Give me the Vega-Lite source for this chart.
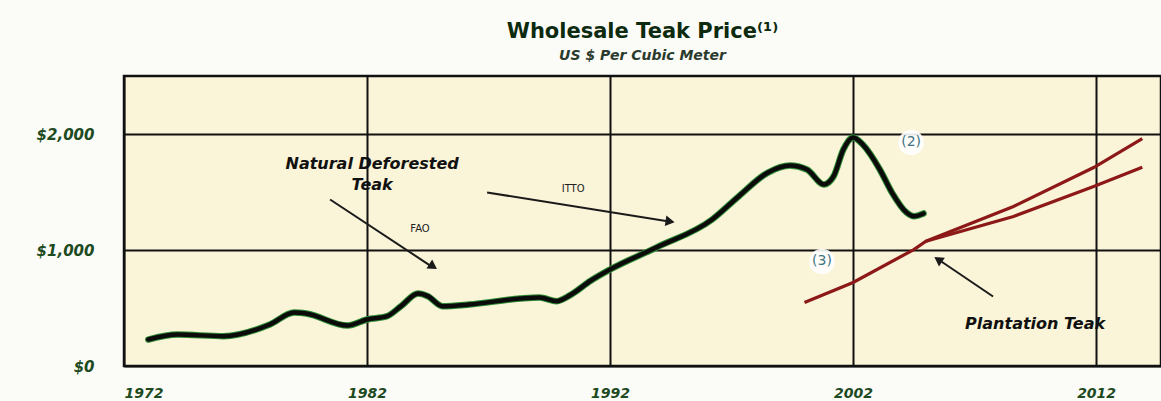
{
  "$schema": "https://vega.github.io/schema/vega-lite/v6.json",
  "width": 1037,
  "height": 290,
  "autosize": {"type": "none"},
  "padding": {"left": 124, "top": 76, "right": 0, "bottom": 35},
  "background": "#fbfbf8",
  "title": {
    "text": "Wholesale Teak Price⁽¹⁾",
    "subtitle": "US $ Per Cubic Meter",
    "anchor": "middle",
    "frame": "group",
    "offset": 13,
    "font": "DejaVu Sans",
    "fontSize": 21,
    "fontWeight": "bold",
    "color": "#0c2a0e",
    "subtitleFont": "DejaVu Sans",
    "subtitleFontSize": 14,
    "subtitleFontWeight": "bold",
    "subtitleFontStyle": "italic",
    "subtitleColor": "#2a3a2c",
    "subtitlePadding": 7
  },
  "config": {
    "view": {"fill": "#faf4d8", "stroke": "#111111", "strokeWidth": 2.5},
    "axis": {
      "labelFont": "DejaVu Sans",
      "labelFontWeight": "bold",
      "labelFontStyle": "italic",
      "labelColor": "#1d4a1f",
      "domain": false,
      "ticks": false,
      "gridColor": "#111111",
      "gridWidth": 2,
      "gridOpacity": 1,
      "title": null
    }
  },
  "datasets": {
    "natural": [
      {"year": 1973.0, "value": 228},
      {"year": 1974.2, "value": 271},
      {"year": 1976.1, "value": 257},
      {"year": 1978.0, "value": 358},
      {"year": 1979.0, "value": 461},
      {"year": 1979.5, "value": 452},
      {"year": 1981.2, "value": 349},
      {"year": 1982.0, "value": 401},
      {"year": 1982.8, "value": 427},
      {"year": 1983.4, "value": 516},
      {"year": 1984.1, "value": 625},
      {"year": 1984.5, "value": 602},
      {"year": 1985.1, "value": 516},
      {"year": 1986.2, "value": 530},
      {"year": 1988.3, "value": 581},
      {"year": 1989.1, "value": 590},
      {"year": 1989.8, "value": 559},
      {"year": 1990.4, "value": 616},
      {"year": 1991.2, "value": 735},
      {"year": 1992.0, "value": 832},
      {"year": 1993.9, "value": 1021},
      {"year": 1996.2, "value": 1263},
      {"year": 1997.3, "value": 1464},
      {"year": 1998.5, "value": 1668},
      {"year": 1999.4, "value": 1728},
      {"year": 2000.1, "value": 1694},
      {"year": 2000.8, "value": 1565},
      {"year": 2001.2, "value": 1636},
      {"year": 2001.6, "value": 1866},
      {"year": 2002.0, "value": 1970},
      {"year": 2002.4, "value": 1909},
      {"year": 2003.1, "value": 1694},
      {"year": 2003.6, "value": 1495},
      {"year": 2004.2, "value": 1323},
      {"year": 2004.5, "value": 1291},
      {"year": 2004.9, "value": 1315}
    ],
    "plantation": [
      {"series": "upper", "year": 2000.0, "value": 547},
      {"series": "upper", "year": 2002.0, "value": 720},
      {"series": "upper", "year": 2004.5, "value": 1004},
      {"series": "upper", "year": 2005.0, "value": 1076},
      {"series": "upper", "year": 2008.6, "value": 1375},
      {"series": "upper", "year": 2011.9, "value": 1711},
      {"series": "upper", "year": 2013.9, "value": 1961},
      {"series": "lower", "year": 2005.0, "value": 1076},
      {"series": "lower", "year": 2008.6, "value": 1289},
      {"series": "lower", "year": 2011.9, "value": 1547},
      {"series": "lower", "year": 2013.9, "value": 1714}
    ],
    "arrows": [
      {"arrow": "fao", "year": 1980.48, "value": 1435},
      {"arrow": "fao", "year": 1984.6, "value": 866},
      {"arrow": "itto", "year": 1986.94, "value": 1496},
      {"arrow": "itto", "year": 1994.3, "value": 1250},
      {"arrow": "plant", "year": 2007.76, "value": 599},
      {"arrow": "plant", "year": 2005.6, "value": 905}
    ],
    "heads": [
      {"arrow": "fao", "year": 1984.72, "value": 858},
      {"arrow": "itto", "year": 1994.47, "value": 1246},
      {"arrow": "plant", "year": 2005.5, "value": 918}
    ],
    "bold_labels": [
      {"year": 1982.21, "value": 1740, "label": "Natural Deforested"},
      {"year": 1982.21, "value": 1560, "label": "Teak"},
      {"year": 2009.49, "value": 358, "label": "Plantation Teak"}
    ],
    "small_labels": [
      {"year": 1984.18, "value": 1185, "label": "FAO"},
      {"year": 1990.48, "value": 1522, "label": "ITTO"}
    ],
    "notes": [
      {"year": 2004.39, "value": 1927, "label": "(2)"},
      {"year": 2000.72, "value": 901, "label": "(3)"}
    ]
  },
  "encoding": {
    "x": {
      "field": "year",
      "type": "quantitative",
      "scale": {"domain": [1972, 2014.67], "nice": false, "zero": false},
      "axis": {
        "values": [1972, 1982, 1992, 2002, 2012],
        "format": "d",
        "labelFontSize": 14,
        "labelPadding": 20,
        "grid": true
      }
    },
    "y": {
      "field": "value",
      "type": "quantitative",
      "scale": {"domain": [0, 2500], "nice": false},
      "axis": {
        "values": [0, 1000, 2000],
        "labelExpr": "'$' + format(datum.value, ',')",
        "labelFontSize": 15,
        "labelPadding": 30,
        "grid": true
      }
    }
  },
  "layer": [
    {
      "data": {"name": "notes"},
      "mark": {"type": "point", "shape": "circle", "filled": true, "color": "#ffffff", "opacity": 0.9, "size": 650}
    },
    {
      "data": {"name": "notes"},
      "mark": {"type": "text", "font": "DejaVu Sans", "fontSize": 14, "color": "#3f7383"},
      "encoding": {"text": {"field": "label"}}
    },
    {
      "data": {"name": "arrows"},
      "mark": {"type": "line", "color": "#1a1a1a", "strokeWidth": 2},
      "encoding": {"detail": {"field": "arrow"}}
    },
    {
      "data": {"name": "heads"},
      "transform": [{"filter": "datum.arrow == 'fao'"}],
      "mark": {"type": "point", "shape": "triangle-up", "filled": true, "color": "#1a1a1a", "opacity": 1, "size": 110, "angle": 123}
    },
    {
      "data": {"name": "heads"},
      "transform": [{"filter": "datum.arrow == 'itto'"}],
      "mark": {"type": "point", "shape": "triangle-up", "filled": true, "color": "#1a1a1a", "opacity": 1, "size": 110, "angle": 99}
    },
    {
      "data": {"name": "heads"},
      "transform": [{"filter": "datum.arrow == 'plant'"}],
      "mark": {"type": "point", "shape": "triangle-up", "filled": true, "color": "#1a1a1a", "opacity": 1, "size": 110, "angle": 304}
    },
    {
      "data": {"name": "plantation"},
      "mark": {"type": "line", "color": "#8c1818", "strokeWidth": 3.2},
      "encoding": {"detail": {"field": "series"}}
    },
    {
      "data": {"name": "natural"},
      "mark": {"type": "line", "color": "#2f8a34", "strokeWidth": 6.5, "interpolate": "monotone", "strokeCap": "round"}
    },
    {
      "data": {"name": "natural"},
      "mark": {"type": "line", "color": "#0b0b0b", "strokeWidth": 4.5, "interpolate": "monotone", "strokeCap": "round"}
    },
    {
      "data": {"name": "bold_labels"},
      "mark": {"type": "text", "font": "DejaVu Sans", "fontSize": 16, "fontWeight": "bold", "fontStyle": "italic", "color": "#111111"},
      "encoding": {"text": {"field": "label"}}
    },
    {
      "data": {"name": "small_labels"},
      "mark": {"type": "text", "font": "DejaVu Sans", "fontSize": 10, "color": "#222222"},
      "encoding": {"text": {"field": "label"}}
    }
  ]
}
